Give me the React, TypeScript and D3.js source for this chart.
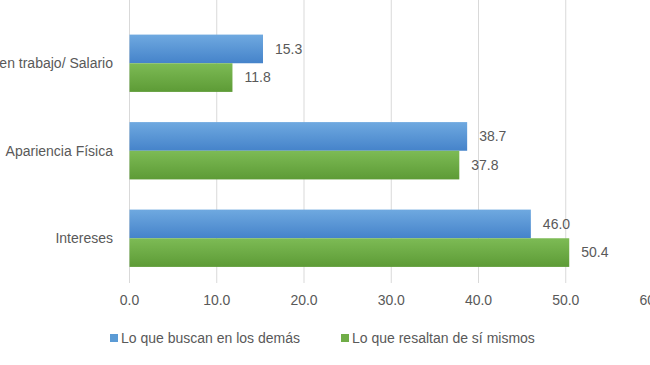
import React from 'react';
import * as d3 from 'd3';

const categories = ['Buen trabajo/ Salario', 'Apariencia Física', 'Intereses'];
const seriesNames = ['Lo que buscan en los demás', 'Lo que resaltan de sí mismos'];
const buscan = [15.3, 38.7, 46.0];
const resaltan = [11.8, 37.8, 50.4];
const xTicks = [0, 10, 20, 30, 40, 50, 60];

const width = 650;
const height = 365;
const left = 129.5;
const right = 653;
const top = 19.5;
const bottom = 282;

const colors = ['url(#gradBlue)', 'url(#gradGreen)'];
const legendColors = ['#5b9bd5', '#70ad47'];
const font = '"Liberation Sans", Arial, sans-serif';
const textColor = '#595959';

const App: React.FC = () => {
  const x = d3.scaleLinear().domain([0, 60]).range([left, right]);
  const y = d3.scaleBand<string>()
    .domain(categories)
    .range([top, bottom])
    .paddingInner(0.345)
    .paddingOuter(0.1725);
  const sub = d3.scaleBand<number>()
    .domain([0, 1])
    .range([0, y.bandwidth()]);

  const series = [buscan, resaltan];

  return (
    <svg width={width} height={height} style={{ position: 'absolute', left: 0, top: 0, background: '#fff' }}>
      <defs>
        <linearGradient id="gradBlue" x1="0" y1="0" x2="0" y2="1">
          <stop offset="0%" stopColor="#6fa9e0" />
          <stop offset="100%" stopColor="#4583ca" />
        </linearGradient>
        <linearGradient id="gradGreen" x1="0" y1="0" x2="0" y2="1">
          <stop offset="0%" stopColor="#7dbb55" />
          <stop offset="100%" stopColor="#5d9b36" />
        </linearGradient>
      </defs>

      {/* gridlines */}
      {xTicks.map(t => (
        <line key={t} x1={x(t)} x2={x(t)} y1={0} y2={bottom + 1} stroke="#d9d9d9" strokeWidth={1} />
      ))}

      {/* bars */}
      {series.map((vals, si) =>
        vals.map((v, i) => {
          const y0 = (y(categories[i]) || 0) + (sub(si) || 0);
          return (
            <g key={`${si}-${i}`}>
              <rect x={x(0)} y={y0} width={x(v) - x(0)} height={sub.bandwidth()} fill={colors[si]} />
              <text
                x={x(v) + 12}
                y={y0 + sub.bandwidth() / 2}
                dy="0.35em"
                fontFamily={font}
                fontSize={14}
                fill={textColor}
              >
                {v.toFixed(1)}
              </text>
            </g>
          );
        })
      )}

      {/* category labels */}
      {categories.map(c => (
        <text
          key={c}
          x={113}
          y={(y(c) || 0) + y.bandwidth() / 2}
          dy="0.35em"
          textAnchor="end"
          fontFamily={font}
          fontSize={14}
          fill={textColor}
        >
          {c}
        </text>
      ))}

      {/* x tick labels */}
      {xTicks.map(t => (
        <text key={t} x={x(t)} y={305} textAnchor="middle" fontFamily={font} fontSize={14} fill={textColor}>
          {t.toFixed(1)}
        </text>
      ))}

      {/* legend */}
      {seriesNames.map((n, i) => {
        const lx = i === 0 ? 110 : 341;
        return (
          <g key={n}>
            <rect x={lx} y={334} width={8} height={8} fill={legendColors[i]} />
            <text x={lx + 11} y={343} fontFamily={font} fontSize={14} fill={textColor}>
              {n}
            </text>
          </g>
        );
      })}
    </svg>
  );
};

export default App;
